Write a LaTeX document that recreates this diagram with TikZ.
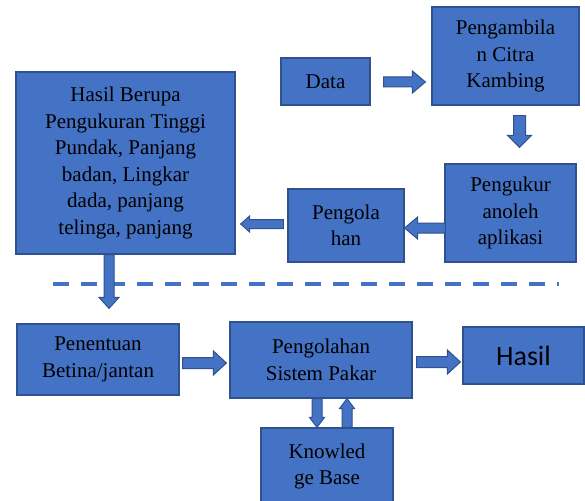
\documentclass[tikz,border=0pt]{standalone}
\usepackage{fontspec}
\setmainfont{Liberation Serif}
\newfontfamily\timesfont{Liberation Serif}
\newfontfamily\calibrifont{Carlito}
\usetikzlibrary{calc}
\definecolor{boxblue}{HTML}{4472C4}
\definecolor{edgeblue}{HTML}{2F528F}
\tikzset{
  box/.style={draw=edgeblue, fill=boxblue, line width=1.2pt, inner sep=0pt,
    align=center, font=\timesfont\fontsize{21}{26.5}\selectfont, text=black},
  blockarrow/.style={draw=edgeblue, fill=boxblue, line width=1pt, line join=miter},
  sepline/.style={draw=boxblue, line width=4pt, dash pattern=on 16pt off 12pt}
}
% start, end, shaft half width, head half width, head length
\newcommand\blkarrow[5]{%
  \path (#1) coordinate (ba-s) (#2) coordinate (ba-e);
  \path ($(ba-e)!#5!(ba-s)$) coordinate (ba-h);
  \draw[blockarrow] ($(ba-s)!#3!90:(ba-e)$) -- ($(ba-h)!#3!90:(ba-e)$)
    -- ($(ba-h)!#4!90:(ba-e)$) -- (ba-e) -- ($(ba-h)!#4!-90:(ba-e)$)
    -- ($(ba-h)!#3!-90:(ba-e)$) -- ($(ba-s)!#3!-90:(ba-e)$) -- cycle;
}
\begin{document}
\begin{tikzpicture}[x=1pt,y=-1pt]
\useasboundingbox (0,0) rectangle (585,500);

\node[box, minimum width=89pt, minimum height=47pt] (data) at (325.5,81.5) {Data};
\node[box, minimum width=147pt, minimum height=98pt] (pengambilan) at (505.5,56) {Pengambila\\n Citra\\Kambing};
\node[box, minimum width=131pt, minimum height=98pt] (pengukur) at (510.5,213) {Pengukur\\anoleh\\aplikasi};
\node[box, minimum width=116pt, minimum height=73pt] (pengolahan) at (346,225.5) {Pengola\\han};
\node[box, minimum width=219pt, minimum height=182pt] (hasilberupa) at (125.5,163) {Hasil Berupa\\Pengukuran Tinggi\\Pundak, Panjang\\badan, Lingkar\\dada, panjang\\telinga, panjang};
\node[box, minimum width=162pt, minimum height=71pt] (penentuan) at (98,359.5) {Penentuan\\Betina/jantan};
\node[box, minimum width=182pt, minimum height=76pt] (psp) at (321,360) {Pengolahan\\Sistem Pakar};
\node[box, minimum width=121pt, minimum height=57pt, font=\calibrifont\fontsize{28}{32}\selectfont] (hasil) at (523.5,355.5) {Hasil};
\node[box, minimum width=132pt, minimum height=77pt] (kb) at (327,466.5) {Knowled\\ge Base};

\coordinate (dl) at (53,284);
\coordinate (dr) at (559,284);
\draw[sepline] (dl) -- (dr);

\blkarrow{$(data.east)+(13,0.5)$}{$(pengambilan.west |- data.east)+(-6,0.5)$}{5pt}{11pt}{13pt}
\blkarrow{$(pengambilan.south)+(14,10)$}{$(pengukur.north)+(9,-16)$}{6pt}{12pt}{12pt}
\blkarrow{$(pengukur.west)+(1,15)$}{$(pengolahan.east)+(0,2.5)$}{5pt}{11pt}{13pt}
\blkarrow{$(pengolahan.west)+(-4,-1.5)$}{$(hasilberupa.east)+(5,61)$}{4.5pt}{8pt}{9pt}
\blkarrow{$(hasilberupa.south)+(-16.5,0)$}{$(penentuan.north)+(11,-15)$}{5pt}{10pt}{11pt}
\blkarrow{$(penentuan.east)+(3,3.5)$}{$(psp.west)+(-3,3)$}{5.5pt}{12pt}{13pt}
\blkarrow{$(psp.east)+(4,2)$}{$(hasil.west)+(-2,6.5)$}{5.5pt}{12pt}{13pt}
\blkarrow{$(psp.south)+(-4,0)$}{$(kb.north)+(-10,0)$}{5pt}{7.5pt}{10pt}
\blkarrow{$(kb.north)+(20,0)$}{$(psp.south)+(26,0)$}{5pt}{7.5pt}{10pt}
\end{tikzpicture}
\end{document}
